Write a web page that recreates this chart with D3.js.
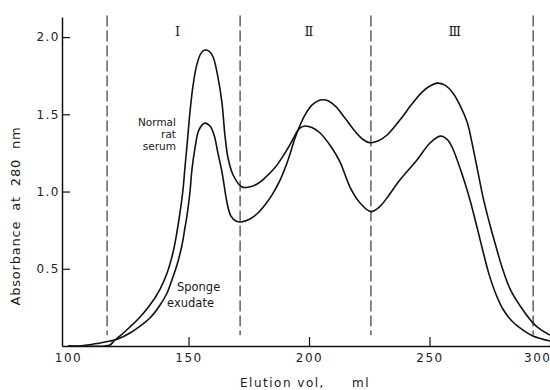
<!DOCTYPE html>
<html>
<head>
<meta charset="utf-8">
<script src="https://cdn.jsdelivr.net/npm/d3@7"></script>
<style>
  body { margin: 0; background: #fff; }
  svg { display: block; }
  .tick text { font-family: "DejaVu Sans", sans-serif; font-size: 12px; letter-spacing: 1.5px; fill: #222; }
  .lbl { font-family: "DejaVu Sans", sans-serif; fill: #1a1a1a; }
</style>
</head>
<body>
<div id="chart"></div>
<script>
const width = 550,
  height = 390;

// elution volume (ml) and absorbance at 280 nm
const normalVol = [100, 115.3, 117.4, 119.5, 121.6, 125.7, 129.9, 134.0, 138.2, 141.1, 143.6, 145.2, 146.5, 147.7, 148.5, 149.4, 150.6, 151.9, 153.5, 155.2, 156.8, 158.5, 160.2, 162.2, 163.9, 165.1, 166.4, 168.5, 172.2, 175.5, 178.8, 181.7, 185.9, 190.0, 193.4, 195.8, 198.3, 201.2, 204.6, 209.5, 212.9, 217.0, 221.2, 225.7, 229.5, 232.4, 237.7, 244.8, 250.2, 254.4, 257.3, 259.3, 263.9, 266.8, 269.7, 272.0, 274.5, 277.2, 280.5, 284.6, 288.7, 292.9, 300];
const normalAbs = [0, 0, 0.006, 0.039, 0.065, 0.123, 0.188, 0.265, 0.369, 0.472, 0.608, 0.738, 0.867, 1.01, 1.152, 1.301, 1.515, 1.689, 1.825, 1.896, 1.916, 1.909, 1.871, 1.741, 1.573, 1.366, 1.217, 1.107, 1.029, 1.031, 1.052, 1.088, 1.155, 1.249, 1.340, 1.405, 1.424, 1.414, 1.379, 1.282, 1.191, 1.029, 0.926, 0.870, 0.905, 0.960, 1.074, 1.204, 1.314, 1.359, 1.338, 1.290, 1.094, 0.945, 0.770, 0.625, 0.475, 0.350, 0.238, 0.155, 0.104, 0.065, 0.032];

const spongeVol = [100, 105.0, 107.9, 113.3, 117.4, 120.7, 125.7, 129.9, 134.0, 138.2, 141.1, 143.1, 145.2, 147.3, 148.5, 149.4, 150.6, 151.4, 152.7, 154.3, 156.8, 158.9, 160.6, 162.2, 163.9, 166.0, 167.6, 169.7, 171.8, 175.5, 178.8, 181.7, 184.6, 188.0, 191.3, 194.2, 196.3, 198.3, 201.2, 204.6, 207.0, 210.8, 214.9, 219.1, 222.4, 225.3, 228.6, 232.4, 237.7, 242.7, 246.9, 250.2, 253.1, 256.4, 259.7, 262.6, 265.6, 268.0, 270.1, 272.2, 275.1, 278.0, 280.1, 283.4, 287.5, 292.9, 296.3, 300];
const spongeAbs = [0, 0, 0.006, 0.019, 0.032, 0.045, 0.084, 0.129, 0.181, 0.265, 0.343, 0.427, 0.524, 0.654, 0.764, 0.848, 0.997, 1.139, 1.282, 1.398, 1.443, 1.424, 1.366, 1.249, 1.126, 0.926, 0.841, 0.809, 0.803, 0.822, 0.861, 0.913, 0.977, 1.074, 1.204, 1.346, 1.430, 1.495, 1.560, 1.592, 1.592, 1.555, 1.476, 1.390, 1.337, 1.316, 1.327, 1.366, 1.463, 1.566, 1.644, 1.683, 1.702, 1.689, 1.638, 1.560, 1.450, 1.288, 1.126, 0.964, 0.783, 0.621, 0.510, 0.370, 0.262, 0.150, 0.104, 0.071];

const fractionCuts = [116.2, 171.4, 225.7, 293];
const fractionNames = ["Ⅰ", "Ⅱ", "Ⅲ"];
const fractionCentres = [145.5, 200, 260.5];

const xTicks = [100, 150, 200, 250, 300];
const yTicks = [0.5, 1.0, 1.5, 2.0];

const x = d3.scaleLinear().domain([97.5, 300]).range([62, 550]);
const y = d3.scaleLinear().domain([0, 2.13]).range([346, 17]);

const svg = d3.select("#chart").append("svg")
  .attr("width", width)
  .attr("height", height);

// axes
const xAxis = svg.append("g")
  .attr("transform", `translate(0,${y(0)})`)
  .call(d3.axisBottom(x).tickValues(xTicks).tickSize(-9).tickSizeOuter(0).tickPadding(7.5).tickFormat(d3.format("d")));
xAxis.select(".domain").attr("stroke", "#111").attr("stroke-width", 1.5);
xAxis.selectAll(".tick line").attr("stroke", "#111").attr("stroke-width", 1.2)
  .filter(d => d === 100).remove();
// last label sits against the right edge, as in the print
xAxis.selectAll(".tick text").filter(d => d === 300).attr("text-anchor", "end").attr("x", 1);

const yAxis = svg.append("g")
  .attr("transform", `translate(${x.range()[0]},0)`)
  .call(d3.axisLeft(y).tickValues(yTicks).tickSize(-8).tickSizeOuter(0).tickPadding(2).tickFormat(d3.format(".1f")));
yAxis.select(".domain").attr("stroke", "#111").attr("stroke-width", 1.5);
yAxis.selectAll(".tick line").attr("stroke", "#111").attr("stroke-width", 1.2);

// fraction boundaries
svg.append("g").selectAll("line")
  .data(fractionCuts)
  .join("line")
  .attr("x1", d => x(d)).attr("x2", d => x(d))
  .attr("y1", y(2.14)).attr("y2", y(0.07))
  .attr("stroke", "#111")
  .attr("stroke-width", 1)
  .attr("stroke-dasharray", "11,4");

svg.append("g").selectAll("text")
  .data(fractionNames)
  .join("text")
  .attr("class", "lbl")
  .attr("x", (d, i) => x(fractionCentres[i]))
  .attr("y", 36)
  .attr("text-anchor", "middle")
  .style("font-family", "'DejaVu Serif', serif")
  .style("font-size", "13px")
  .text(d => d);

// curves
const line = d3.line()
  .x(d => x(d[0]))
  .y(d => y(d[1]))
  .curve(d3.curveCatmullRom.alpha(0.5));

const series = [
  d3.zip(normalVol, normalAbs),
  d3.zip(spongeVol, spongeAbs)
];

svg.append("g").selectAll("path")
  .data(series)
  .join("path")
  .attr("d", line)
  .attr("fill", "none")
  .attr("stroke", "#111")
  .attr("stroke-width", 1.6);

// curve labels
["Normal", "rat", "serum"].forEach((t, i) => {
  svg.append("text")
    .attr("class", "lbl")
    .attr("text-anchor", "end")
    .style("font-size", "10.5px")
    .attr("x", x(144.8))
    .attr("y", y(1.425) + i * 12)
    .text(t);
});

svg.append("text")
  .attr("class", "lbl")
  .attr("x", x(145.2)).attr("y", y(0.356))
  .style("font-size", "11.5px")
  .text("Sponge");
svg.append("text")
  .attr("class", "lbl")
  .attr("x", x(141.1)).attr("y", y(0.252))
  .style("font-size", "11.5px")
  .text("exudate");

// axis titles
svg.append("text")
  .attr("class", "lbl")
  .attr("transform", "translate(20,216) rotate(-90)")
  .attr("text-anchor", "middle")
  .style("font-size", "13px")
  .style("letter-spacing", "0.8px")
  .style("word-spacing", "5px")
  .text("Absorbance at 280 nm");

svg.append("text")
  .attr("class", "lbl")
  .attr("x", 240).attr("y", 387)
  .style("font-size", "12px")
  .style("letter-spacing", "1.5px")
  .text("Elution vol,");
svg.append("text")
  .attr("class", "lbl")
  .attr("x", 352).attr("y", 387)
  .style("font-size", "12px")
  .style("letter-spacing", "1.5px")
  .text("ml");
</script>
</body>
</html>
